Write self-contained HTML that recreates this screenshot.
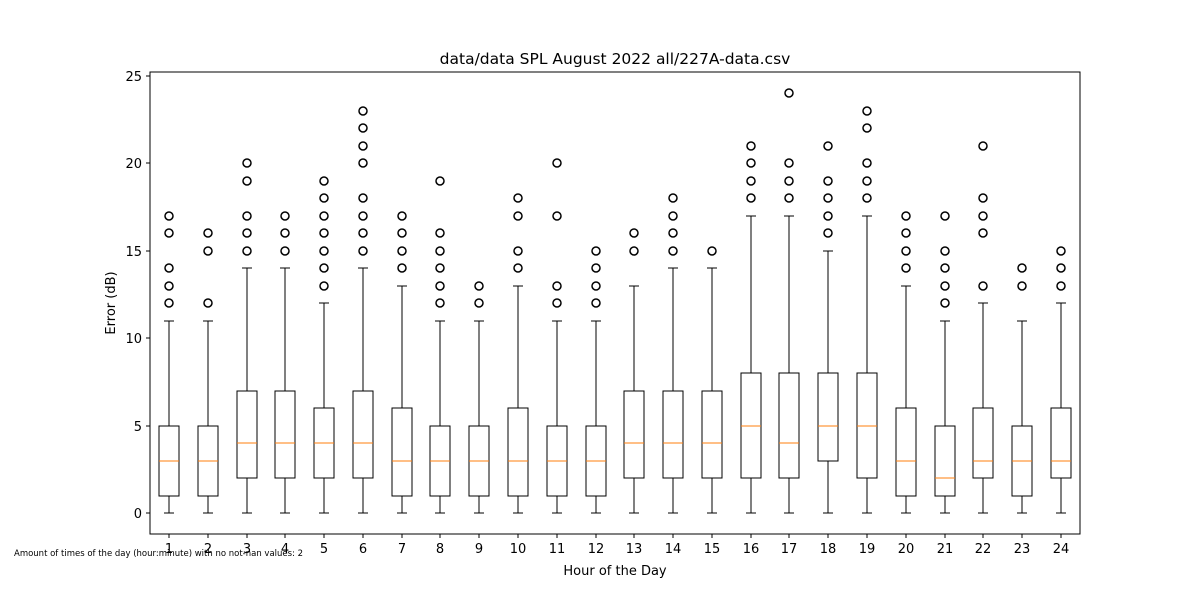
<!DOCTYPE html>
<html><head><meta charset="utf-8"><style>
body{margin:0;background:#fff;}
svg{display:block;font-family:"DejaVu Sans","Liberation Sans",sans-serif;}
line,rect{shape-rendering:crispEdges;}
</style></head><body>
<svg id="chart" width="1200" height="600">
<rect width="1200" height="600" fill="#fff"/>
<text x="615" y="64" font-size="15.5" text-anchor="middle">data/data SPL August 2022 all/227A-data.csv</text>
<text x="615" y="575" font-size="13" text-anchor="middle">Hour of the Day</text>
<text transform="translate(115,303) rotate(-90)" font-size="13" text-anchor="middle">Error (dB)</text>
<text x="14" y="556" font-size="8.5">Amount of times of the day (hour:minute) with no not-nan values: 2</text>
<g id="plot"></g>
<rect x="150" y="72" width="930" height="462" fill="none" stroke="#000" stroke-width="1"/>
</svg>
<script>
const hours=[1,2,3,4,5,6,7,8,9,10,11,12,13,14,15,16,17,18,19,20,21,22,23,24];
const whiskLo=[0,0,0,0,0,0,0,0,0,0,0,0,0,0,0,0,0,0,0,0,0,0,0,0];
const q1=[1,1,2,2,2,2,1,1,1,1,1,1,2,2,2,2,2,3,2,1,1,2,1,2];
const medians=[3,3,4,4,4,4,3,3,3,3,3,3,4,4,4,5,4,5,5,3,2,3,3,3];
const q3=[5,5,7,7,6,7,6,5,5,6,5,5,7,7,7,8,8,8,8,6,5,6,5,6];
const whiskHi=[11,11,14,14,12,14,13,11,11,13,11,11,13,14,14,17,17,15,17,13,11,12,11,12];
const outliers=[[12,13,14,16,17],[12,15,16],[15,16,17,19,20],[15,16,17],[13,14,15,16,17,18,19],[15,16,17,18,20,21,22,23],[14,15,16,17],[12,13,14,15,16,19],[12,13],[14,15,17,18],[12,13,17,20],[12,13,14,15],[15,16],[15,16,17,18],[15],[18,19,20,21],[18,19,20,24],[16,17,18,19,21],[18,19,20,22,23],[14,15,16,17],[12,13,14,15,17],[13,16,17,18,21],[13,14],[13,14,15]];
const yTicks=[0,5,10,15,20,25];
const NS="http://www.w3.org/2000/svg";
const X=v=>Math.round(149.6+(v-0.5)*38.78);
const Y=v=>Math.round(513-v*17.5);
const g=document.getElementById('plot');
function mk(t,a){const e=document.createElementNS(NS,t);for(const k in a)e.setAttribute(k,a[k]);g.appendChild(e);return e;}
yTicks.forEach(t=>{
 const l=mk('line',{x1:146,x2:150,y1:Y(t),y2:Y(t),stroke:'#000'});
 
 
 const tx=mk('text',{x:142,y:Y(t)+5,'font-size':13,'text-anchor':'end'});tx.textContent=t;
 
 
});
hours.forEach((h,i)=>{
 const cx=X(h),hw=10,cw=5;
 const l=mk('line',{x1:cx,x2:cx,y1:534,y2:538,stroke:'#000'});
 
 
 const tx=mk('text',{x:cx,y:553,'font-size':13,'text-anchor':'middle'});tx.textContent=h;
 
 
 const s={stroke:'#000','stroke-width':1,fill:'none'};
 const w1=mk('line',Object.assign({x1:cx,x2:cx,y1:Y(whiskLo[i]),y2:Y(q1[i])},s));
 
 
 const w2=mk('line',Object.assign({x1:cx,x2:cx,y1:Y(q3[i]),y2:Y(whiskHi[i])},s));
 
 
 const c1=mk('line',Object.assign({x1:cx-cw,x2:cx+cw,y1:Y(whiskLo[i]),y2:Y(whiskLo[i])},s));
 
 
 const c2=mk('line',Object.assign({x1:cx-cw,x2:cx+cw,y1:Y(whiskHi[i]),y2:Y(whiskHi[i])},s));
 
 
 const b=mk('rect',Object.assign({x:cx-hw,y:Y(q3[i]),width:2*hw,height:Y(q1[i])-Y(q3[i])},s));
 
 
 const m=mk('line',{x1:cx-hw,x2:cx+hw,y1:Y(medians[i]),y2:Y(medians[i]),stroke:'#ff7f0e','stroke-width':1});
 
 
 outliers[i].forEach(o=>{
  const c=mk('circle',{cx:cx,cy:Y(o),r:4,fill:'none',stroke:'#000','stroke-width':1.5});
  
  
 });
});
</script>
</body></html>
